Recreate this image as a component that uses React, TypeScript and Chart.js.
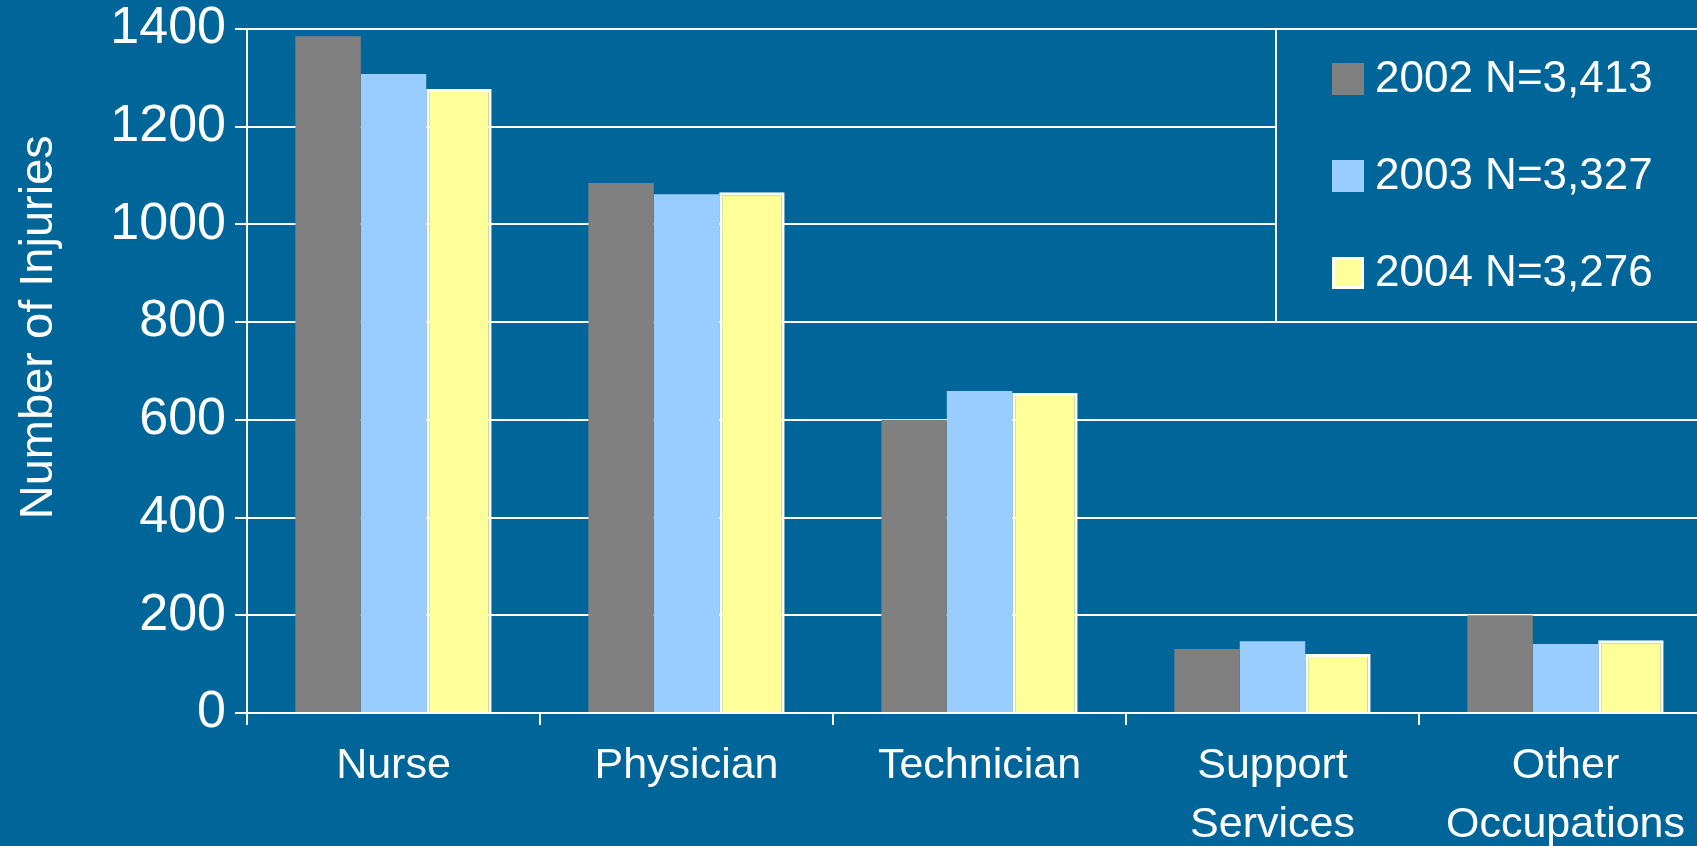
import React, { useEffect, useRef } from "react";
import { Chart, registerables } from "chart.js";

Chart.register(...registerables);

const categories: (string | string[])[] = [
  "Nurse",
  "Physician",
  "Technician",
  ["Support", "Services"],
  ["Other", "Occupations"],
];
const series2002 = [1385, 1085, 600, 131, 200];
const series2003 = [1308, 1062, 659, 147, 141];
const series2004 = [1277, 1066, 655, 121, 149];
const seriesLabels = ["2002 N=3,413", "2003 N=3,327", "2004 N=3,276"];
const yTicks = [0, 200, 400, 600, 800, 1000, 1200, 1400];
const yTitle = "Number of Injuries";

const BG = "#006699";
const FONT = "'Liberation Sans', Arial, sans-serif";

const yTitlePlugin = {
  id: "yTitlePlugin",
  afterDraw(chart: any) {
    const { ctx, chartArea } = chart;
    ctx.save();
    const cy = chartArea.top + (chartArea.bottom - chartArea.top) * 0.436;
    ctx.translate(52, cy);
    ctx.rotate(-Math.PI / 2);
    ctx.fillStyle = "#ffffff";
    ctx.font = `47px ${FONT}`;
    ctx.textAlign = "center";
    ctx.textBaseline = "alphabetic";
    ctx.fillText(yTitle, 0, 0);
    ctx.restore();
  },
};

const legendBoxPlugin = {
  id: "legendBoxPlugin",
  afterDraw(chart: any) {
    const { ctx, chartArea } = chart;
    const left = 1276;
    const top = chartArea.top;
    const height = 293;
    ctx.save();
    ctx.fillStyle = BG;
    ctx.fillRect(left, top, chart.width - left + 10, height);
    ctx.strokeStyle = "#ffffff";
    ctx.lineWidth = 2;
    ctx.strokeRect(left, top, chart.width - left + 10, height);
    chart.data.datasets.forEach((ds: any, i: number) => {
      const cy = top + 50 + i * 97;
      const sx = 1332;
      const size = 32;
      ctx.fillStyle = ds.backgroundColor;
      ctx.fillRect(sx, cy - size / 2, size, size);
      if (ds.borderWidth) {
        ctx.strokeStyle = ds.borderColor;
        ctx.lineWidth = 3;
        ctx.strokeRect(sx + 1.5, cy - size / 2 + 1.5, size - 3, size - 3);
      }
      ctx.fillStyle = "#ffffff";
      ctx.font = `44px ${FONT}`;
      ctx.textAlign = "left";
      ctx.textBaseline = "middle";
      ctx.fillText(ds.label, 1375, cy + 1);
    });
    ctx.restore();
  },
};

export default function App() {
  const canvasRef = useRef<HTMLCanvasElement | null>(null);

  useEffect(() => {
    const canvas = canvasRef.current;
    if (!canvas) return;
    const chart = new Chart(canvas, {
      type: "bar",
      data: {
        labels: categories,
        datasets: [
          {
            label: seriesLabels[0],
            data: series2002,
            backgroundColor: "#808080",
            borderWidth: 0,
          },
          {
            label: seriesLabels[1],
            data: series2003,
            backgroundColor: "#99CCFF",
            borderWidth: 0,
          },
          {
            label: seriesLabels[2],
            data: series2004,
            backgroundColor: "#FFFF99",
            borderColor: "#ffffff",
            borderWidth: 3,
            borderSkipped: "bottom",
          },
        ],
      },
      options: {
        responsive: false,
        animation: false,
        layout: { padding: { top: 29, left: 0, right: 0, bottom: 0 } },
        datasets: {
          bar: { categoryPercentage: 0.67, barPercentage: 1.0 },
        },
        plugins: {
          legend: { display: false },
          tooltip: { enabled: false },
          title: { display: false },
        },
        scales: {
          x: {
            afterFit: (scale: any) => {
              scale.height = 133;
            },
            grid: {
              offset: true,
              drawOnChartArea: false,
              drawTicks: true,
              tickLength: 12,
              color: "#ffffff",
              lineWidth: 2,
            },
            border: { color: "#ffffff", width: 2 },
            ticks: {
              color: "#ffffff",
              font: { family: FONT, size: 43, lineHeight: 1.38 },
              padding: 11,
              maxRotation: 0,
              autoSkip: false,
            },
          },
          y: {
            min: 0,
            max: 1400,
            afterFit: (scale: any) => {
              scale.width = 247;
            },
            afterBuildTicks: (scale: any) => {
              scale.ticks = yTicks.map((v) => ({ value: v }));
            },
            grid: {
              color: "#ffffff",
              lineWidth: 2,
              drawTicks: true,
              tickLength: 12,
            },
            border: { color: "#ffffff", width: 2 },
            ticks: {
              color: "#ffffff",
              font: { family: FONT, size: 52, lineHeight: 0.75 },
              padding: 9,
              callback: (value: any) => String(value),
            },
          },
        },
      },
      plugins: [yTitlePlugin, legendBoxPlugin],
    });
    return () => chart.destroy();
  }, []);

  return (
    <div
      style={{
        position: "fixed",
        left: 0,
        top: 0,
        width: 1697,
        height: 846,
        overflow: "hidden",
        background: BG,
      }}
    >
      <canvas
        ref={canvasRef}
        width={1712}
        height={846}
        style={{ display: "block", width: 1712, height: 846 }}
      />
    </div>
  );
}
